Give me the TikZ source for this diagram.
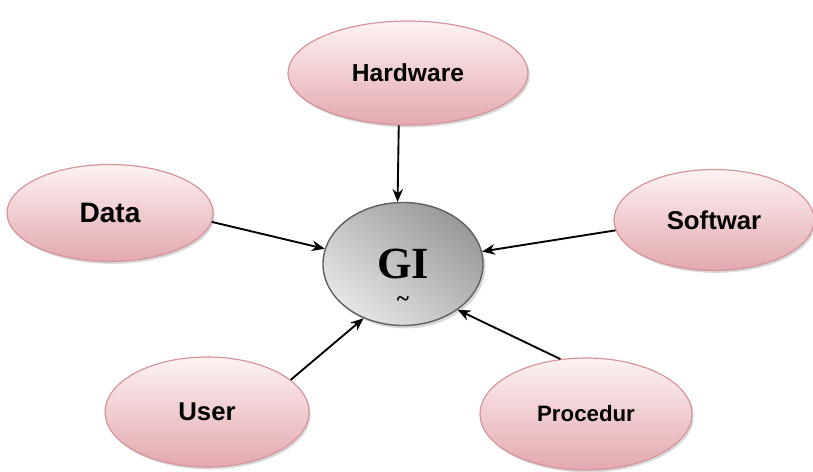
\documentclass[tikz,border=0pt]{standalone}
\usepackage{fontspec}
\setmainfont{Liberation Serif}
\newfontfamily\labelfont{Liberation Sans}
\usetikzlibrary{positioning,shapes.geometric,shadows,arrows.meta}

\definecolor{pinktop}{HTML}{FDF2F3}
\definecolor{pinkbot}{HTML}{E3A8AE}
\definecolor{pinkedge}{HTML}{D3949A}

\begin{document}
\begin{tikzpicture}[
% first : the style of the scheme
    x=0.03cm, y=-0.03cm,
    part/.style={
        ellipse,
        draw=pinkedge,
        line width=1pt,
        top color=pinktop,
        bottom color=pinkbot,
        drop shadow={opacity=0.3, shadow xshift=1.5pt, shadow yshift=-2pt},
        font=\labelfont\bfseries
    },
    core/.style={
        ellipse,
        draw=gray!75!black,
        line width=1.2pt,
        top color=gray!80,
        bottom color=gray!20,
        shading angle=-40,
        drop shadow={opacity=0.3, shadow xshift=2pt, shadow yshift=-2.5pt},
        font=\bfseries\fontsize{38}{40}\selectfont,
        inner sep=1pt,
        minimum width=4.8cm,
        minimum height=3.69cm
    },
    link/.style={->, line width=1.6pt},
    >={Stealth[length=11pt,width=9pt]}
]
\useasboundingbox (0,0) rectangle (813,471);

% the centre
\node[core] (gis) at (403,264) {GI};
\node[font=\bfseries\fontsize{20}{20}\selectfont, inner sep=0pt] (gitilde) at (403,302) {\textasciitilde};

% caracteristic + text
\node[part, minimum width=7.2cm, minimum height=3.12cm,
      font=\labelfont\bfseries\fontsize{21}{24}\selectfont] (hardware) at (408,73) {Hardware};
\node[part, minimum width=6.18cm, minimum height=2.91cm,
      font=\labelfont\bfseries\fontsize{24}{28}\selectfont] (data) at (110,213) {Data};
\node[part, minimum width=6.0cm, minimum height=3.03cm,
      font=\labelfont\bfseries\fontsize{22}{26}\selectfont] (softwar) at (714,220) {Softwar};
\node[part, minimum width=6.12cm, minimum height=3.3cm,
      font=\labelfont\bfseries\fontsize{22}{26}\selectfont] (user) at (207,412) {User};
\node[part, minimum width=6.36cm, minimum height=3.36cm,
      font=\labelfont\bfseries\fontsize{19}{22}\selectfont] (procedur) at (586,414) {Procedur};

% links
\draw[link] (hardware.-100) -- (gis.95);
\draw[link] (data.-5) -- (gis.169);
\draw[link] (softwar.186) -- (gis.9);
\draw[link] (user.21) -- (gis.234);
\draw[link] (procedur.115) -- (gis.-40);

\end{tikzpicture}
\end{document}
